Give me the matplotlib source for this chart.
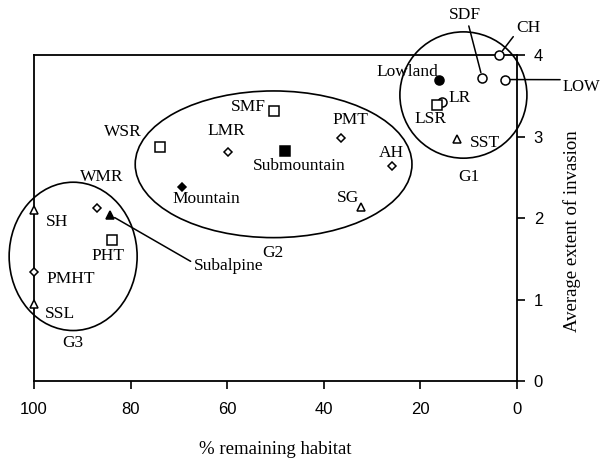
import matplotlib.pyplot as plt
from matplotlib.patches import Ellipse

# --- data ---
names = ["CH", "SDF", "LOW", "Lowland", "LR", "LSR", "SST", "AH",
         "SMF", "WSR", "LMR", "Submountain", "PMT", "Mountain", "SG",
         "Subalpine", "PHT", "WMR", "SH", "PMHT", "SSL"]
habitat = [3.7, 7.2, 2.5, 16.1, 15.5, 16.6, 12.4, 25.9,
           50.3, 73.9, 59.8, 48.0, 36.4, 69.4, 32.3,
           84.3, 83.8, 87.0, 100, 100, 100]
invasion = [4.0, 3.72, 3.70, 3.70, 3.42, 3.39, 2.97, 2.64,
            3.31, 2.87, 2.81, 2.82, 2.98, 2.38, 2.14,
            2.04, 1.73, 2.12, 2.10, 1.34, 0.94]
shapes = ["o", "o", "o", "o", "o", "s", "^", "D",
          "s", "s", "D", "s", "D", "D", "^",
          "^", "s", "D", "^", "D", "^"]
filled = ["Lowland", "Submountain", "Mountain", "Subalpine"]

groups = ["G1", "G2", "G3"]
group_center = [(11.1, 3.51), (50.4, 2.66), (91.9, 1.53)]
group_size = [(26.3, 1.55), (57.3, 1.80), (26.5, 1.82)]
group_label = [(9.9, 2.50), (50.5, 1.57), (91.9, 0.47)]

# label placement (data coords), centred text
label_pos = {
    "Lowland": (22.8, 3.79), "LR": (11.8, 3.47), "LSR": (18.0, 3.21),
    "SST": (6.6, 2.92), "AH": (26.1, 2.80), "SMF": (55.7, 3.36),
    "WSR": (81.6, 3.06), "LMR": (60.2, 3.07), "PMT": (34.4, 3.20),
    "Submountain": (45.1, 2.64), "Mountain": (64.4, 2.23), "SG": (35.0, 2.25),
    "PHT": (84.7, 1.53), "WMR": (85.9, 2.50), "SH": (95.2, 1.95),
    "PMHT": (92.5, 1.25), "SSL": (94.6, 0.82),
}
# labels joined to their point by a leader line: (text pos, relpos on text box)
leader_pos = {
    "CH": ((0.2, 4.33), (0.0, 0.2)),
    "SDF": ((10.8, 4.49), (0.6, 0.0)),
    "LOW": ((-9.5, 3.61), (0.0, 0.95)),
    "Subalpine": ((67.0, 1.41), (0.0, 0.7)),
}

plt.rcParams["font.family"] = "Liberation Serif"
fs = 12.5

fig = plt.figure(figsize=(6, 4.63), dpi=100)
ax = fig.add_axes([0.0567, 0.177, 0.805, 0.704])

for n, x, y, m in zip(names, habitat, invasion, shapes):
    face = "black" if n in filled else "white"
    ms = {"o": 6.5, "s": 6.5, "D": 4.5, "^": 6.0}[m]
    ax.plot(x, y, marker=m, ms=ms, mfc=face, mec="black", mew=1.1,
            ls="none", clip_on=False, zorder=3)

for g, c, s, lp in zip(groups, group_center, group_size, group_label):
    ax.add_patch(Ellipse(c, s[0], s[1], fill=False, lw=1.2, ec="black",
                         clip_on=False))
    ax.text(lp[0], lp[1], g, ha="center", va="center", fontsize=fs)

for n, (x, y) in label_pos.items():
    ax.text(x, y, n, ha="center", va="center", fontsize=fs)

for n, ((tx, ty), rp) in leader_pos.items():
    i = names.index(n)
    ax.annotate(n, xy=(habitat[i], invasion[i]), xytext=(tx, ty),
                ha="left" if rp[0] == 0 else "center", va="center",
                fontsize=12 if n == "LOW" else fs, annotation_clip=False,
                arrowprops=dict(arrowstyle="-", lw=1.1, color="black",
                                relpos=rp, shrinkA=0, shrinkB=4))

ax.set_xlim(100, 0)
ax.set_ylim(0, 4)
ax.set_xticks([100, 80, 60, 40, 20, 0])
ax.set_yticks([0, 1, 2, 3, 4])
ax.yaxis.tick_right()
ax.yaxis.set_label_position("right")
ax.tick_params(axis="both", direction="out", length=6, width=1.2,
               labelsize=12, pad=6)
ax.tick_params(axis="x", pad=9)
for lab in ax.get_xticklabels() + ax.get_yticklabels():
    lab.set_fontfamily("Liberation Sans")
for sp in ax.spines.values():
    sp.set_linewidth(1.3)

ax.set_xlabel("% remaining habitat", fontsize=13.5)
ax.xaxis.set_label_coords(0.5, -0.185)
ax.set_ylabel("Average extent of invasion", fontsize=13.5)
ax.yaxis.set_label_coords(1.095, 0.46)

fig.savefig("out.png", dpi=100)
